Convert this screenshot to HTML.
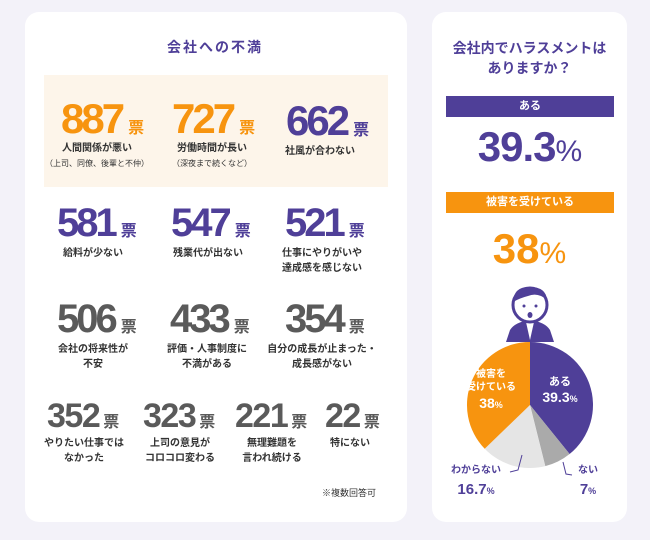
<!DOCTYPE html>
<html><head><meta charset="utf-8"><style>
body{margin:0;width:650px;height:540px;background:#f3f2f9;position:relative;overflow:hidden;font-family:"Liberation Sans","Noto Sans CJK JP",sans-serif;}
.card{position:absolute;background:#fff;border-radius:14px;}
.a{position:absolute;white-space:nowrap;}
.n{position:absolute;font-weight:bold;letter-spacing:-3px;line-height:1;}
.n span{font-size:16px;letter-spacing:0;margin-left:6px;}
.r4{letter-spacing:-1.5px}
.r4 span{margin-left:4px}
.o{color:#f7940f}.p{color:#4f3f98}.g{color:#5a5a5a}
.l{position:absolute;font-size:10px;color:#333;text-align:center;line-height:15px;font-weight:bold;transform:translateX(-50%);white-space:nowrap;}
.s{font-size:8px;font-weight:normal;}
</style></head><body>
<div class="card" style="left:25px;top:12px;width:382px;height:510px"></div>
<div class="card" style="left:432px;top:12px;width:195px;height:510px"></div>
<div class="a p" style="left:0;width:430px;text-align:center;top:37px;font-size:14px;font-weight:bold;letter-spacing:2px">会社への不満</div>
<div class="a" style="left:44px;top:75px;width:344px;height:112px;background:#fdf5ea"></div>

<div class="n o" style="left:61px;top:98px;font-size:42px">887<span>票</span></div>
<div class="l" style="left:97px;top:141px">人間関係が悪い<br><span class="s">（上司、同僚、後輩と不仲）</span></div>
<div class="n o" style="left:172px;top:98px;font-size:42px">727<span>票</span></div>
<div class="l" style="left:212px;top:141px">労働時間が長い<br><span class="s">（深夜まで続くなど）</span></div>
<div class="n p" style="left:286px;top:100px;font-size:42px">662<span>票</span></div>
<div class="l" style="left:320px;top:144px">社風が合わない</div>

<div class="n p" style="left:57px;top:203px;font-size:40px">581<span>票</span></div>
<div class="l" style="left:93px;top:246px">給料が少ない</div>
<div class="n p" style="left:171px;top:203px;font-size:40px">547<span>票</span></div>
<div class="l" style="left:208px;top:246px">残業代が出ない</div>
<div class="n p" style="left:285px;top:203px;font-size:40px">521<span>票</span></div>
<div class="l" style="left:322px;top:246px">仕事にやりがいや<br>達成感を感じない</div>

<div class="n g" style="left:57px;top:299px;font-size:40px">506<span>票</span></div>
<div class="l" style="left:93px;top:342px">会社の将来性が<br>不安</div>
<div class="n g" style="left:170px;top:299px;font-size:40px">433<span>票</span></div>
<div class="l" style="left:207px;top:342px">評価・人事制度に<br>不満がある</div>
<div class="n g" style="left:285px;top:299px;font-size:40px">354<span>票</span></div>
<div class="l" style="left:322px;top:342px">自分の成長が止まった・<br>成長感がない</div>

<div class="n g r4" style="left:47px;top:399px;font-size:34px">352<span>票</span></div>
<div class="l" style="left:84px;top:436px">やりたい仕事では<br>なかった</div>
<div class="n g r4" style="left:143px;top:399px;font-size:34px">323<span>票</span></div>
<div class="l" style="left:180px;top:436px">上司の意見が<br>コロコロ変わる</div>
<div class="n g r4" style="left:235px;top:399px;font-size:34px">221<span>票</span></div>
<div class="l" style="left:272px;top:436px">無理難題を<br>言われ続ける</div>
<div class="n g r4" style="left:325px;top:399px;font-size:34px">22<span>票</span></div>
<div class="l" style="left:350px;top:436px">特にない</div>
<div class="a" style="left:322px;top:486px;font-size:9px;color:#333">※複数回答可</div>

<div class="a p" style="left:432px;width:195px;text-align:center;top:38px;font-size:14px;font-weight:bold;line-height:20px">会社内でハラスメントは<br>ありますか？</div>
<div class="a" style="left:446px;top:96px;width:168px;height:21px;background:#4f3f98;color:#fff;font-size:11px;font-weight:bold;text-align:center;line-height:21px">ある</div>
<div class="a p" style="left:432px;width:195px;text-align:center;top:123px;font-size:42px;font-weight:bold;letter-spacing:-1px">39.3<span style="font-size:30px;font-weight:normal">%</span></div>
<div class="a" style="left:446px;top:192px;width:168px;height:21px;background:#f7940f;color:#fff;font-size:11px;font-weight:bold;text-align:center;line-height:21px">被害を受けている</div>
<div class="a o" style="left:432px;width:195px;text-align:center;top:225px;font-size:42px;font-weight:bold">38<span style="font-size:30px;font-weight:normal">%</span></div>

<svg class="a" style="left:0;top:0" width="650" height="540">
<path d="M506 342 L510 330 Q515 322 530 320 Q545 322 550 330 L554 342 Z" fill="#4f3f98"/>
<path d="M526 322 L530 340 L534 322 Z" fill="#fff"/>
<circle cx="530" cy="305" r="17" fill="#fff" stroke="#4f3f98" stroke-width="3"/>
<path d="M513 302 Q514 286 530 287 Q546 287 547 300 Q538 292 528 296 Q520 298 513 302Z" fill="#4f3f98"/>
<circle cx="524" cy="306" r="1.5" fill="#4f3f98"/><circle cx="536" cy="306" r="1.5" fill="#4f3f98"/>
<ellipse cx="530" cy="315" rx="2.5" ry="3" fill="#4f3f98"/>
<path d="M530 405 L530 342 A63 63 0 0 1 569.6 454 Z" fill="#4f3f98"/>
<path d="M530 405 L569.6 454 A63 63 0 0 1 545.3 466.1 Z" fill="#aaaaaa"/>
<path d="M530 405 L545.3 466.1 A63 63 0 0 1 484.7 448.8 Z" fill="#e5e5e5"/>
<path d="M530 405 L484.7 448.8 A63 63 0 0 1 530 342 Z" fill="#f7940f"/>
<polyline points="522,455 518,470 510,472" fill="none" stroke="#4f3f98" stroke-width="1"/>
<polyline points="563,462 566,474 572,475" fill="none" stroke="#4f3f98" stroke-width="1"/>
</svg>
<div class="a" style="left:530px;width:60px;top:375px;color:#fff;font-size:11px;font-weight:bold;text-align:center;line-height:15px">ある<br><span style="font-size:14px">39.3</span><span style="font-size:9px">%</span></div>
<div class="a" style="left:461px;width:60px;top:368px;color:#fff;font-size:10px;font-weight:bold;text-align:center;line-height:13px">被害を<br>受けている<br><span style="font-size:14px;line-height:18px">38</span><span style="font-size:9px">%</span></div>
<div class="a p" style="left:440px;width:72px;top:461px;font-size:10px;font-weight:bold;text-align:center;line-height:19px">わからない<br><span style="font-size:15px">16.7</span><span style="font-size:9px">%</span></div>
<div class="a p" style="left:570px;width:36px;top:461px;font-size:10px;font-weight:bold;text-align:center;line-height:19px">ない<br><span style="font-size:15px">7</span><span style="font-size:9px">%</span></div>
</body></html>
